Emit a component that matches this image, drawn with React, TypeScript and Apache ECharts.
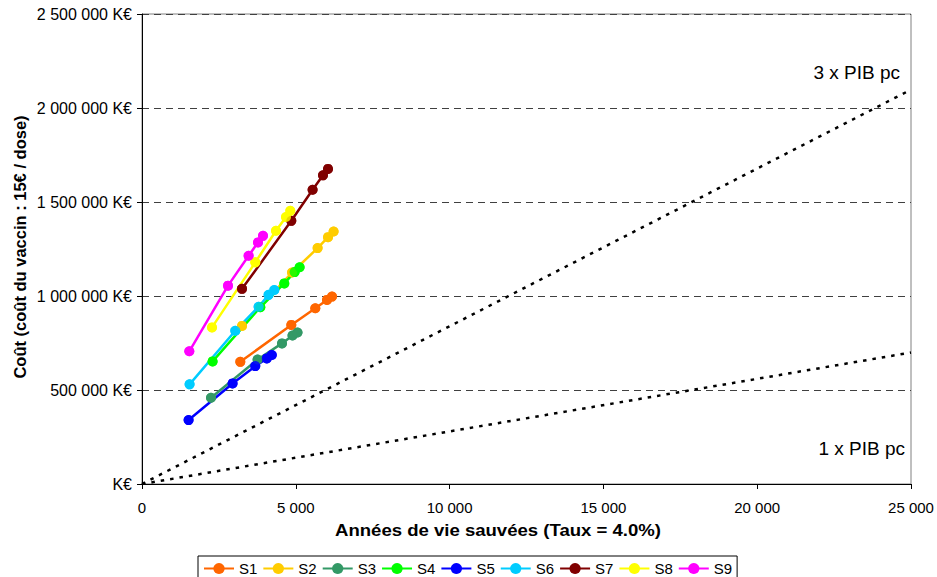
import React, { useEffect, useRef } from "react";
import * as echarts from "echarts";

// Années de vie sauvées (x) and coût en K€ (y) for each scenario
const seriesNames = ["S1", "S2", "S3", "S4", "S5", "S6", "S7", "S8", "S9"];
const seriesColors = ["#FF6600", "#FFCC00", "#339966", "#00FF00", "#0000FF", "#00CCFF", "#800000", "#FFFF00", "#FF00FF"];

const s1Years = [3196, 4854, 5634, 6014, 6177];
const s1Cost = [650000, 846000, 935000, 979000, 997000];
const s2Years = [3251, 4877, 5709, 6047, 6229];
const s2Cost = [841000, 1125000, 1255000, 1313000, 1343000];
const s3Years = [2243, 3758, 4551, 4893, 5055];
const s3Cost = [459000, 662000, 748000, 790000, 806000];
const s4Years = [2295, 3846, 4626, 4961, 5124];
const s4Cost = [652000, 940000, 1067000, 1127000, 1153000];
const s5Years = [1515, 2945, 3683, 4057, 4220];
const s5Cost = [340000, 535000, 627000, 668000, 686000];
const s6Years = [1547, 3033, 3791, 4116, 4301];
const s6Cost = [530000, 815000, 943000, 1006000, 1032000];
const s7Years = [3251, 4854, 5546, 5884, 6047];
const s7Cost = [1038000, 1400000, 1565000, 1642000, 1676000];
const s8Years = [2276, 3683, 4356, 4681, 4821];
const s8Cost = [833000, 1179000, 1347000, 1420000, 1453000];
const s9Years = [1538, 2796, 3466, 3771, 3934];
const s9Cost = [706000, 1055000, 1214000, 1285000, 1320000];

const allYears = [s1Years, s2Years, s3Years, s4Years, s5Years, s6Years, s7Years, s8Years, s9Years];
const allCost = [s1Cost, s2Cost, s3Cost, s4Cost, s5Cost, s6Cost, s7Cost, s8Cost, s9Cost];

// Seuils : PIB par habitant (K€ par année de vie)
const pibPerCapita = 27.97;
const pibMultiples = [3, 1];
const pibLabels = ["3 x PIB pc", "1 x PIB pc"];

const xTicks = { min: 0, max: 25000, interval: 5000 };
const yTicks = { min: 0, max: 2500000, interval: 500000 };

const fmtSpace = (v: number) => String(Math.round(v)).replace(/\B(?=(\d{3})+(?!\d))/g, " ");

const FONT = "'Liberation Sans', Arial, sans-serif";

export default function App() {
  const ref = useRef<HTMLDivElement>(null);
  useEffect(() => {
    if (!ref.current) return;
    const chart = echarts.init(ref.current, null, { renderer: "svg" });
    const lineSeries: any[] = seriesNames.map((name, i) => ({
      name,
      type: "line",
      data: allYears[i].map((x, j) => [x, allCost[i][j]]),
      symbol: "circle",
      symbolSize: 10,
      showSymbol: true,
      lineStyle: { color: seriesColors[i], width: 2.5 },
      itemStyle: { color: seriesColors[i] },
      z: 2,
      emphasis: { disabled: true },
    }));
    const markerSeries: any[] = seriesNames.map((name, i) => ({
      name,
      type: "scatter",
      data: allYears[i].map((x, j) => [x, allCost[i][j]]),
      symbol: "circle",
      symbolSize: 10,
      itemStyle: { color: seriesColors[i] },
      z: 3,
      emphasis: { disabled: true },
    }));
    const pibSeries: any[] = pibMultiples.map((m, i) => ({
      name: pibLabels[i],
      type: "line",
      data: [
        [xTicks.min, 0],
        [xTicks.max, xTicks.max * pibPerCapita * m * 1],
      ],
      symbol: "none",
      lineStyle: { color: "#000", width: 2.5, type: [3.5, 6] },
      z: 1,
      emphasis: { disabled: true },
    }));
    chart.setOption({
      animation: false,
      textStyle: { fontFamily: FONT },
      grid: { left: 142, right: 26, top: 14, bottom: 93, show: true, borderColor: "#808080", borderWidth: 1, backgroundColor: "transparent" },
      legend: {
        data: seriesNames,
        left: 198,
        top: 556,
        orient: "horizontal",
        itemWidth: 30,
        itemHeight: 14,
        itemGap: 5,
        padding: [5, 5, 2, 5],
        borderColor: "#000",
        borderWidth: 1,
        backgroundColor: "#fff",
        textStyle: { fontSize: 15, color: "#000", fontFamily: FONT },
      },
      xAxis: {
        type: "value",
        min: xTicks.min,
        max: xTicks.max,
        interval: xTicks.interval,
        axisLine: { show: true, lineStyle: { color: "#000", width: 1 } },
        axisTick: { show: true, length: 5, lineStyle: { color: "#000" } },
        splitLine: { show: false },
        axisLabel: { fontSize: 15, color: "#000", margin: 16, formatter: (v: number) => fmtSpace(v), fontFamily: FONT },
      },
      yAxis: {
        type: "value",
        min: yTicks.min,
        max: yTicks.max,
        interval: yTicks.interval,
        axisLine: { show: true, lineStyle: { color: "#000", width: 1 } },
        axisTick: { show: true, length: 5, lineStyle: { color: "#000" } },
        splitLine: { show: true, lineStyle: { color: "#404040", width: 1, type: [7, 5] } },
        axisLabel: {
          fontSize: 16,
          color: "#000",
          margin: 10,
          fontFamily: FONT,
          formatter: (v: number) => (v === 0 ? "K€" : fmtSpace(v / 1000 * 1000) + " K€"),
        },
      },
      graphic: [
        {
          type: "text",
          x: 20,
          y: 247,
          rotation: Math.PI / 2,
          style: {
            text: "Coût (coût du vaccin : 15€ / dose)",
            fontSize: 16.5,
            fontWeight: "bold",
            fill: "#000",
            fontFamily: FONT,
            align: "center",
            verticalAlign: "middle",
          },
        },
        {
          type: "text",
          x: 498,
          y: 530,
          scaleX: 1.16,
          style: {
            text: "Années de vie sauvées (Taux = 4.0%)",
            fontSize: 16,
            fontWeight: "bold",
            fill: "#000",
            fontFamily: FONT,
            align: "center",
            verticalAlign: "middle",
          },
        },
        {
          type: "text",
          x: 900,
          y: 72,
          style: { text: pibLabels[0], fontSize: 19, fill: "#000", fontFamily: FONT, align: "right", verticalAlign: "middle" },
        },
        {
          type: "text",
          x: 905,
          y: 448,
          style: { text: pibLabels[1], fontSize: 19, fill: "#000", fontFamily: FONT, align: "right", verticalAlign: "middle" },
        },
      ],
      series: [...pibSeries, ...lineSeries, ...markerSeries],
    });
    return () => chart.dispose();
  }, []);
  return <div ref={ref} style={{ position: "absolute", left: 0, top: 0, width: 937, height: 577 }} />;
}
